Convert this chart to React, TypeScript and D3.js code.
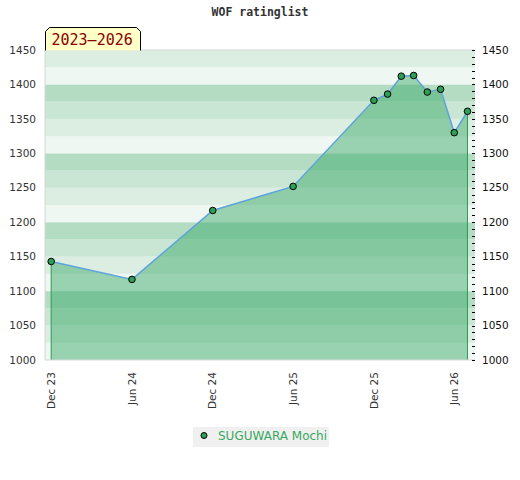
import React from 'react';
import * as d3 from 'd3';

// rating history, one point per listing
const dates: string[] = [
  '2023-12-01', '2024-06-01', '2024-12-01', '2025-06-01', '2025-12-01', '2026-01-01',
  '2026-02-01', '2026-03-01', '2026-04-01', '2026-05-01', '2026-06-01', '2026-07-01',
];
const ratings: number[] = [1143, 1117, 1217, 1252, 1377, 1386, 1412, 1413, 1389, 1393, 1330, 1361];

const tickDates: string[] = ['2023-12-01', '2024-06-01', '2024-12-01', '2025-06-01', '2025-12-01', '2026-06-01'];
const tickLabels: string[] = ['Dec 23', 'Jun 24', 'Dec 24', 'Jun 25', 'Dec 25', 'Jun 26'];
const yTicks: number[] = [1000, 1050, 1100, 1150, 1200, 1250, 1300, 1350, 1400, 1450];

const playerName = 'SUGUWARA Mochi';
const title = 'WOF ratinglist';
const periodLabel = '2023–2026';

const W = 520;
const H = 480;
const left = 45;
const right = 475;
const top = 50;
const bottom = 360;

const bandColors = ['#eef7f1', '#dcede2', '#c8e6d3', '#b3dcc3'];

const App: React.FC = () => {
  const x = d3.scaleUtc([new Date('2023-11-17'), new Date('2026-07-18')], [left, right]);
  const y = d3.scaleLinear([1000, 1450], [bottom, top]);

  const pts: [Date, number][] = dates.map((d, i) => [new Date(d), ratings[i]]);

  const area = d3.area<[Date, number]>()
    .x(d => x(d[0]))
    .y0(y(1000))
    .y1(d => y(d[1]));
  const line = d3.line<[Date, number]>()
    .x(d => x(d[0]))
    .y(d => y(d[1]));

  const bands = d3.range(1000, 1450, 25);
  const minor = d3.range(1000, 1451, 10);
  const first = pts[0];
  const last = pts[pts.length - 1];

  return (
    <svg width={W} height={H} style={{ position: 'absolute', left: 0, top: 0, background: '#fff' }}>
      <text x={260} y={16} textAnchor="middle" fontFamily="DejaVu Sans Mono" fontWeight="bold"
        fontSize={11.5} fill="#333">{title}</text>

      {bands.map(b => (
        <rect key={b} x={left} width={right - left} y={y(b + 25)} height={y(b) - y(b + 25)}
          fill={bandColors[((b - 1000) % 100) / 25]} />
      ))}

      <path d={area(pts) ?? ''} fill="#30a561" fillOpacity={0.45} />
      <line x1={x(first[0])} x2={x(first[0])} y1={y(first[1])} y2={y(1000)} stroke="#2e9b52" strokeWidth={1} />
      <line x1={x(last[0])} x2={x(last[0])} y1={y(last[1])} y2={y(1000)} stroke="#2e9b52" strokeWidth={1} />
      <path d={line(pts) ?? ''} fill="none" stroke="#5ea3dc" strokeWidth={1.5} />

      <path d={`M${right},${top}H${left}V${bottom}H${right}`} fill="none" stroke="#d6d6d6" strokeWidth={1} />

      {minor.map(v => (
        <line key={v} x1={right - 3} x2={right} y1={Math.round(y(v)) + 0.5} y2={Math.round(y(v)) + 0.5}
          stroke="#000" strokeWidth={1} />
      ))}

      {yTicks.map(v => (
        <g key={v} fontFamily="DejaVu Sans" fontSize={10.5} fill="#333">
          <text x={36} y={y(v)} dy="0.35em" textAnchor="end">{v}</text>
          <text x={482} y={y(v)} dy="0.35em" textAnchor="start" fill="#111">{v}</text>
        </g>
      ))}

      {tickDates.map((d, i) => (
        <text key={d} transform={`translate(${x(new Date(d))},372) rotate(-90)`} dy="0.35em"
          textAnchor="end" fontFamily="DejaVu Sans" fontSize={10.5} fill="#333">{tickLabels[i]}</text>
      ))}

      {pts.map((p, i) => (
        <circle key={i} cx={x(p[0])} cy={y(p[1])} r={3.3} fill="#2c9e55" stroke="#000" strokeWidth={1} />
      ))}

      <path d={`M45.5,50.5V31.5L49.5,27.5H136.5L140.5,31.5V50.5`} fill="#ffffc8" stroke="#000" strokeWidth={1} />
      <text x={51.5} y={45} fontFamily="DejaVu Sans Mono" fontSize={15} fill="#8b0000">{periodLabel}</text>

      <rect x={193} y={427} width={136} height={20} fill="#f0f0f0" />
      <circle cx={204} cy={435.5} r={3} fill="#2c9e55" stroke="#000" strokeWidth={1} />
      <text x={218} y={440} fontFamily="DejaVu Sans" fontSize={12} fill="#3aa85e">{playerName}</text>
    </svg>
  );
};

export default App;
